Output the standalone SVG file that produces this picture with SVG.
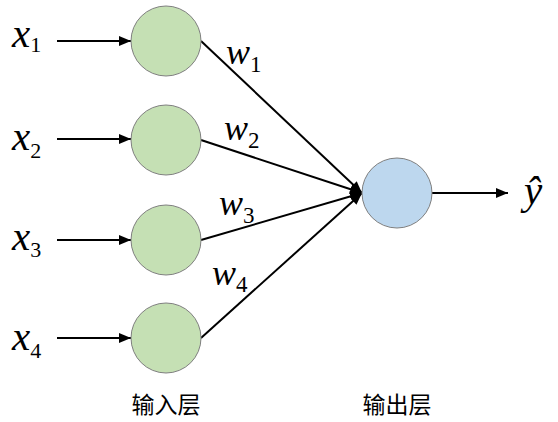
<svg xmlns="http://www.w3.org/2000/svg" width="558" height="422" viewBox="0 0 558 422">
<defs>
<marker id="ah" viewBox="0 0 12 10" refX="12" refY="5" markerWidth="12" markerHeight="10" markerUnits="userSpaceOnUse" orient="auto">
<path d="M0,0 L12,5 L0,10 Z" fill="#000"/>
</marker>
</defs>
<style>
.in{fill:#c5e0b4;stroke:#7f7f7f;stroke-width:1}
.out{fill:#bdd7ee;stroke:#7f7f7f;stroke-width:1}
.c{stroke:#000;stroke-width:2;fill:none;marker-end:url(#ah)}
</style>
<g id="connectors">
<line class="c" x1="57" y1="41" x2="131" y2="41"/>
<line class="c" x1="57" y1="139" x2="131" y2="139"/>
<line class="c" x1="57" y1="240" x2="131" y2="240"/>
<line class="c" x1="57" y1="338" x2="131" y2="338"/>
<line class="c" x1="201" y1="41" x2="362" y2="193"/>
<line class="c" x1="201" y1="140" x2="362" y2="193"/>
<line class="c" x1="201" y1="240" x2="362" y2="193"/>
<line class="c" x1="201" y1="338" x2="362" y2="193"/>
<line class="c" x1="432" y1="193" x2="508" y2="193"/>
</g>
<g id="n1"><circle class="in" cx="166" cy="41" r="35"/></g>
<g id="n2"><circle class="in" cx="166" cy="140" r="35"/></g>
<g id="n3"><circle class="in" cx="166" cy="240" r="35"/></g>
<g id="n4"><circle class="in" cx="166" cy="338" r="35"/></g>
<g id="out"><circle class="out" cx="397" cy="193" r="35"/></g>
<g id="labels" fill="#000" xml:lang="en">
<text font-family="Times New Roman" font-style="italic" font-size="41" x="12" y="47">x<tspan font-style="normal" font-size="22" dy="5">1</tspan></text>
<text font-family="Times New Roman" font-style="italic" font-size="41" x="12" y="150">x<tspan font-style="normal" font-size="22" dy="8">2</tspan></text>
<text font-family="Times New Roman" font-style="italic" font-size="41" x="12" y="250">x<tspan font-style="normal" font-size="22" dy="7">3</tspan></text>
<text font-family="Times New Roman" font-style="italic" font-size="41" x="12" y="350">x<tspan font-style="normal" font-size="22" dy="8">4</tspan></text>
<text font-family="Times New Roman" font-style="italic" font-size="36" x="226" y="64">w<tspan font-style="normal" font-size="23" dy="8">1</tspan></text>
<text font-family="Times New Roman" font-style="italic" font-size="36" x="224" y="140">w<tspan font-style="normal" font-size="23" dy="8">2</tspan></text>
<text font-family="Times New Roman" font-style="italic" font-size="36" x="219" y="215">w<tspan font-style="normal" font-size="23" dy="8">3</tspan></text>
<text font-family="Times New Roman" font-style="italic" font-size="36" x="212" y="285">w<tspan font-style="normal" font-size="23" dy="7">4</tspan></text>
<text font-family="Times New Roman" font-style="italic" font-size="41" x="524" y="204">ŷ</text>
</g>
<g id="cn-labels" fill="#000" xml:lang="zh-CN">
<text font-family="Noto Sans CJK SC" font-size="23" text-anchor="middle" x="166" y="413">输入层</text>
<text font-family="Noto Sans CJK SC" font-size="23" text-anchor="middle" x="397" y="413">输出层</text>
</g>
</svg>
